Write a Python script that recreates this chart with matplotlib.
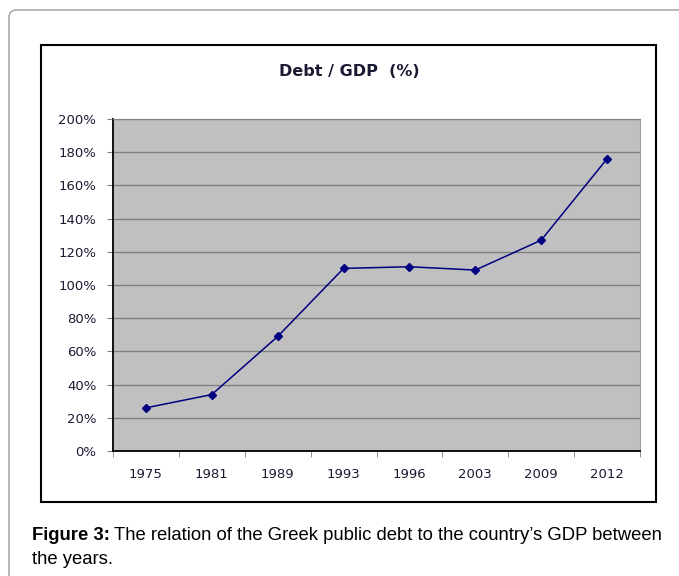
import matplotlib.pyplot as plt
import numpy as np
from matplotlib.patches import Rectangle, FancyBboxPatch
from matplotlib.ticker import FuncFormatter, FixedLocator

# data
years = ['1975', '1981', '1989', '1993', '1996', '2003', '2009', '2012']
debt_pct = [26, 34, 69, 110, 111, 109, 127, 176]

plt.rcParams['font.family'] = ['DejaVu Sans']

W, H = 679, 576
fig = plt.figure(figsize=(W / 100, H / 100), dpi=100)

def px(x0, y0, x1, y1):
    """ pixel box -> figure fraction [left, bottom, width, height] """
    return [x0 / W, 1 - y1 / H, (x1 - x0) / W, (y1 - y0) / H]

# outer rounded frame of the figure panel
l, b, w, h = px(9, 10, 700, 600)
fig.patches.append(FancyBboxPatch((l, b), w, h, boxstyle='round,pad=0,rounding_size=0.012',
                                  transform=fig.transFigure, fill=False,
                                  edgecolor='#9a9a9a', linewidth=1))
# black box around the chart
l, b, w, h = px(41, 45, 656, 502)
fig.patches.append(Rectangle((l, b), w, h, transform=fig.transFigure, fill=False,
                             edgecolor='black', linewidth=1.5))

ax = fig.add_axes(px(113, 119, 640, 451))
ax.set_facecolor('#c0c0c0')
x = np.arange(len(years))
ax.plot(x, debt_pct, color='#000080', marker='D', markersize=4.5, linewidth=1.1, zorder=3)

ax.set_xlim(-0.5, len(years) - 0.5)
ax.set_ylim(0, 200)
ax.set_yticks(np.arange(0, 201, 20))
ax.yaxis.set_major_formatter(FuncFormatter(lambda v, p: f'{v:.0f}%'))
ax.yaxis.grid(True, color='#808080', linewidth=1)
ax.set_axisbelow(True)

ax.set_xticks(x)
ax.set_xticklabels(years)
ax.xaxis.set_minor_locator(FixedLocator(np.arange(-0.5, len(years), 1)))
ax.tick_params(axis='x', which='major', length=0, pad=12, labelsize=9.5, labelcolor='#1a1a33')
ax.tick_params(axis='x', which='minor', length=4, color='#808080')
ax.tick_params(axis='y', length=4, color='#808080', pad=8, labelsize=9.5, labelcolor='#1a1a33')

for s in ['left', 'bottom']:
    ax.spines[s].set_color('black')
    ax.spines[s].set_linewidth(1.3)
ax.spines['top'].set_color('#808080')
ax.spines['right'].set_color('#a0a0a0')

fig.text(349 / W, 1 - 71 / H, 'Debt / GDP  (%)', ha='center', va='center',
         fontsize=11.5, fontweight='bold', color='#1a1a33')

# caption
cap = ['Liberation Sans', 'DejaVu Sans']
t = fig.text(32 / W, 1 - 535 / H, 'Figure 3:', fontsize=13.3, fontweight='bold',
             va='center', family=cap)
fig.canvas.draw()
bb = t.get_window_extent()
fig.text(bb.x1 / W + 4 / W, 1 - 535 / H,
         "The relation of the Greek public debt to the country\u2019s GDP between",
         fontsize=13.3, va='center', family=cap)
fig.text(32 / W, 1 - 560 / H, 'the years.', fontsize=13.3, va='center', family=cap)

fig.savefig('out.png', dpi=100)
